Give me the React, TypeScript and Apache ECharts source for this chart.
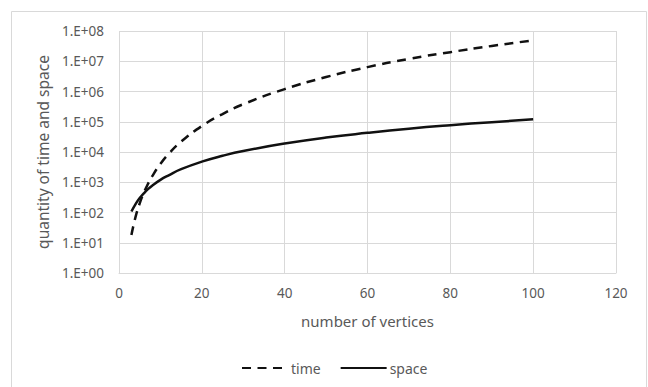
import React, { useEffect, useRef } from "react";
import * as echarts from "echarts";

const vertices = [3, 4, 5, 6, 7, 8, 10, 12, 15, 20, 25, 30, 40, 50, 60, 70, 80, 90, 100];
const timeValues = [18, 72, 200, 450, 880, 1570, 4050, 8700, 22000, 72000, 180000, 380000, 1200000, 3000000, 6400000, 12000000, 20000000, 32000000, 49000000];
const spaceValues = [108, 190, 300, 430, 590, 770, 1200, 1700, 2700, 4800, 7500, 10800, 19000, 30000, 43000, 59000, 77000, 97000, 120000];
const xTicks = { min: 0, max: 120, interval: 20 };
const yRange = { min: 1, max: 100000000 };

const FONT = "Noto Sans";
const GREY = "#595959";
const GRID = "#d9d9d9";

export default function App() {
  const ref = useRef<HTMLDivElement>(null);
  useEffect(() => {
    if (!ref.current) return;
    const chart = echarts.init(ref.current, null, { renderer: "svg" });
    const timeData = vertices.map((x, i) => [x, timeValues[i]]);
    const spaceData = vertices.map((x, i) => [x, spaceValues[i]]);
    chart.setOption({
      animation: false,
      backgroundColor: "#ffffff",
      textStyle: { fontFamily: FONT },
      graphic: [
        {
          type: "rect",
          silent: true,
          shape: { x: 11.5, y: 11.5, width: 635, height: 390 },
          style: { fill: "none", stroke: GRID, lineWidth: 1 },
        },
      ],
      grid: { left: 119, right: 32, top: 31, bottom: 114 },
      legend: {
        left: 236,
        top: 356,
        itemWidth: 46,
        itemHeight: 14,
        itemGap: 19,
        itemStyle: { opacity: 0 },
        textStyle: { color: GREY, fontSize: 14, fontFamily: FONT, padding: [0, 0, 0, -2] },
        data: ["time", "space"],
      },
      xAxis: {
        type: "value",
        min: xTicks.min,
        max: xTicks.max,
        interval: xTicks.interval,
        name: "number of vertices",
        nameLocation: "middle",
        nameGap: 40,
        nameTextStyle: { color: GREY, fontSize: 15, fontFamily: FONT },
        axisLine: { show: true, lineStyle: { color: GRID, width: 1 } },
        axisTick: { show: false },
        axisLabel: { color: GREY, fontSize: 13.5, margin: 13, fontFamily: FONT },
        splitLine: { show: true, lineStyle: { color: GRID, width: 1 } },
      },
      yAxis: {
        type: "log",
        logBase: 10,
        min: yRange.min,
        max: yRange.max,
        name: "quantity of time and space",
        nameLocation: "middle",
        nameGap: 63,
        nameTextStyle: { color: GREY, fontSize: 15.5, fontFamily: FONT },
        axisLine: { show: false },
        axisTick: { show: false },
        axisLabel: {
          color: GREY,
          fontSize: 13.5,
          margin: 15,
          fontFamily: FONT,
          formatter: (v: number) => {
            const e = Math.round(Math.log10(v));
            return "1.E+" + (e < 10 ? "0" + e : String(e));
          },
        },
        splitLine: { show: true, lineStyle: { color: GRID, width: 1 } },
      },
      series: [
        {
          name: "time",
          type: "line",
          data: timeData,
          smooth: true,
          showSymbol: false,
          symbol: "none",
          lineStyle: { color: "#111", width: 2.5, type: [9, 6.5] },
          itemStyle: { color: "#111" },
        },
        {
          name: "space",
          type: "line",
          data: spaceData,
          smooth: true,
          showSymbol: false,
          symbol: "none",
          lineStyle: { color: "#111", width: 2.5, type: "solid" },
          itemStyle: { color: "#111" },
        },
      ],
    });
    return () => chart.dispose();
  }, []);
  return (
    <div
      ref={ref}
      style={{ position: "fixed", left: 0, top: 0, width: 648, height: 387, background: "#fff" }}
    />
  );
}
